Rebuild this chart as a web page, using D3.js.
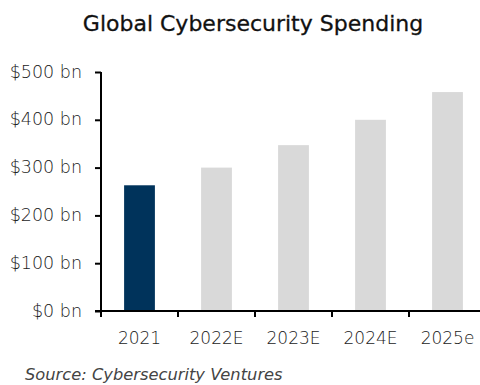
<!DOCTYPE html>
<html>
<head>
<meta charset="utf-8">
<script src="https://cdn.jsdelivr.net/npm/d3@7"></script>
<style>
  html, body { margin: 0; padding: 0; background: #fff; }
  svg { display: block; }
  .lbl { font-family: "DejaVu Sans", sans-serif; font-weight: 300; fill: #1a1a1a; }
</style>
</head>
<body>
<svg id="chart" width="480" height="385"></svg>
<script>
// Global cybersecurity spending, US$ billions
const years = ["2021", "2022E", "2023E", "2024E", "2025e"];
const spending = [263, 300, 347, 400, 458];
const yTicks = [0, 100, 200, 300, 400, 500];
const title = "Global Cybersecurity Spending";
const source = "Source: Cybersecurity Ventures";

const svg = d3.select("#chart");
const plotLeft = 101, plotRight = 486, plotTop = 72, plotBottom = 311;

const x = d3.scaleBand().domain(years).range([plotLeft, plotRight]).padding(0);
const y = d3.scaleLinear().domain([0, 500]).range([plotBottom, plotTop]);

// Title
svg.append("text")
  .attr("x", 253).attr("y", 31)
  .attr("text-anchor", "middle")
  .style("font-family", "'DejaVu Sans', sans-serif")
  .style("font-size", "22px")
  .style("fill", "#111")
  .style("stroke", "#111").style("stroke-width", 0.3)
  .text(title);

// Bars: actual year in navy, estimates in light grey
const barW = x.bandwidth() * 0.4;
svg.append("g").selectAll("rect")
  .data(years.map((yr, i) => ({ yr, v: spending[i], i })))
  .join("rect")
  .attr("x", d => x(d.yr) + (x.bandwidth() - barW) / 2)
  .attr("width", barW)
  .attr("y", d => y(d.v))
  .attr("height", d => y(0) - y(d.v))
  .attr("fill", d => d.i === 0 ? "#00335b" : "#d9d9d9");

// Y axis
const yAxis = d3.axisLeft(y)
  .tickValues(yTicks)
  .tickSize(6)
  .tickPadding(13)
  .tickFormat(d => `$${d} bn`);
const gy = svg.append("g").attr("transform", `translate(${plotLeft},0)`).call(yAxis);
gy.select(".domain").attr("stroke", "#000").attr("stroke-width", 2)
  .attr("d", `M0,${plotTop}V${plotBottom + 6}`);
gy.selectAll(".tick line").attr("stroke", "#000").attr("stroke-width", 2);
gy.selectAll(".tick text")
  .attr("class", "lbl")
  .attr("dy", "0.38em")
  .attr("y", -1.5)
  .style("font-size", "17.5px");

// X axis: labels centred in each band, tick marks on band boundaries
const xAxis = d3.axisBottom(x).tickSize(0).tickPadding(21);
const gx = svg.append("g").attr("transform", `translate(0,${plotBottom})`).call(xAxis);
gx.select(".domain").remove();
gx.selectAll(".tick text")
  .attr("class", "lbl")
  .style("font-size", "17px");

const bounds = years.map(d => x(d)).concat([x(years[years.length - 1]) + x.bandwidth()]);
svg.append("g").selectAll("line")
  .data(bounds)
  .join("line")
  .attr("x1", d => d).attr("x2", d => d)
  .attr("y1", plotBottom).attr("y2", plotBottom + 6)
  .attr("stroke", "#000").attr("stroke-width", 2);
svg.append("line")
  .attr("x1", plotLeft - 6).attr("x2", plotRight)
  .attr("y1", plotBottom).attr("y2", plotBottom)
  .attr("stroke", "#000").attr("stroke-width", 2);

// Source note
svg.append("text")
  .attr("x", 25).attr("y", 380)
  .style("font-family", "'DejaVu Sans', sans-serif")
  .style("font-weight", 300)
  .style("font-style", "italic")
  .style("font-size", "16.3px")
  .style("fill", "#444")
  .text(source);
</script>
</body>
</html>
